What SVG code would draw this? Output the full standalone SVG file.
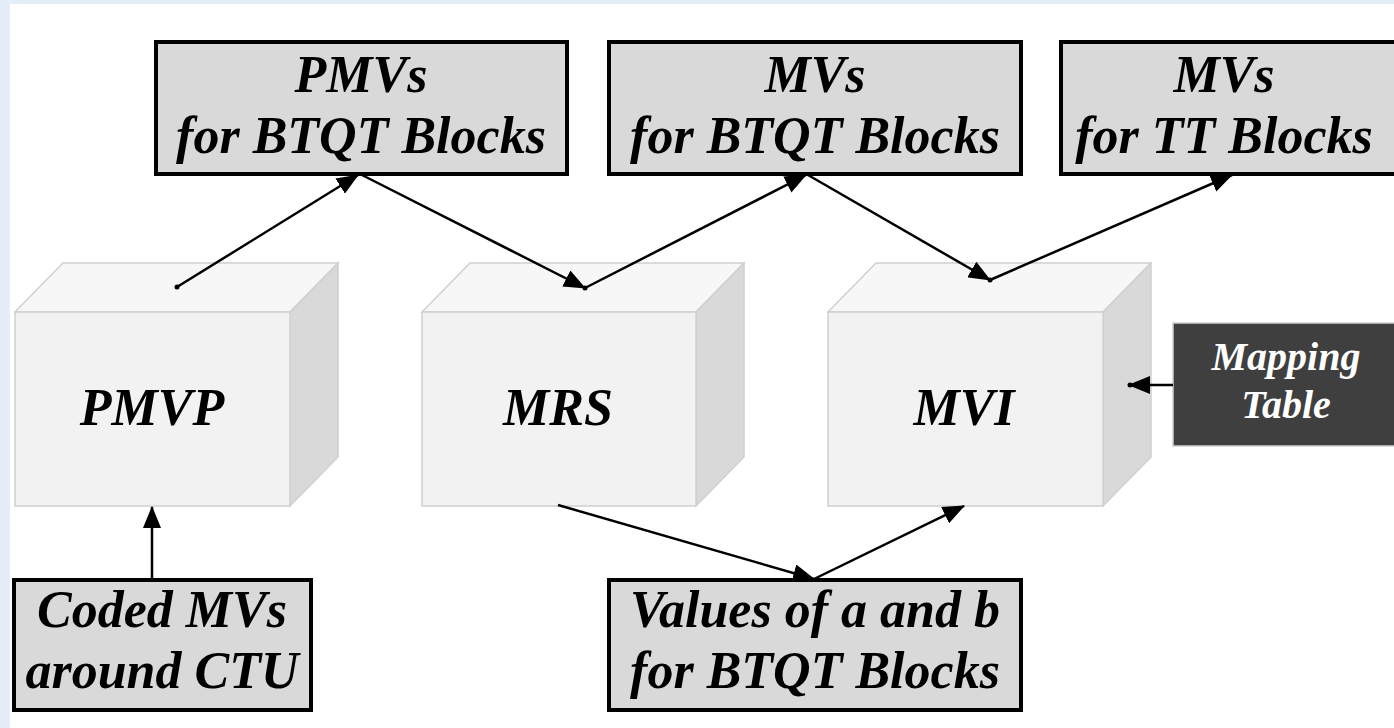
<svg xmlns="http://www.w3.org/2000/svg" width="1394" height="728" viewBox="0 0 1394 728">
<style>
.lbl{font-family:"Liberation Serif","Times New Roman",serif;font-weight:bold;font-style:italic;font-size:52px;fill:#000;text-anchor:middle}
.wl{font-family:"Liberation Serif","Times New Roman",serif;font-weight:bold;font-style:italic;font-size:40px;fill:#fff;text-anchor:middle}
.box{fill:#d9d9d9;stroke:#000;stroke-width:4}
.front{fill:#f2f2f2;stroke:#d0d0d0;stroke-width:1.5}
.top{fill:#f7f7f7;stroke:#d0d0d0;stroke-width:1.5}
.side{fill:#d9d9d9;stroke:#d0d0d0;stroke-width:1.5}
.conn{stroke:#000;stroke-width:2.5;fill:none}
</style>
<defs>
<marker id="arr" markerUnits="userSpaceOnUse" markerWidth="22" markerHeight="18" refX="21" refY="9" orient="auto">
<path d="M0,0 L22,9 L0,18 z" fill="#000"/>
</marker>
</defs>
<rect x="0" y="0" width="1394" height="728" fill="#fff"/>
<rect x="0" y="0" width="1394" height="4" fill="#e4edf8"/>
<rect x="0" y="0" width="10" height="728" fill="#e4edf8"/>

<g id="pmvp">
<polygon class="top" points="15,312 63,263 338,263 290,312"/>
<polygon class="side" points="290,312 338,263 338,457 290,506"/>
<rect class="front" x="15" y="312" width="275" height="194"/>
<text class="lbl" x="152" y="425">PMVP</text>
</g>
<g id="mrs">
<polygon class="top" points="422,312 470,263 744,263 696,312"/>
<polygon class="side" points="696,312 744,263 744,457 696,506"/>
<rect class="front" x="422" y="312" width="274" height="194"/>
<text class="lbl" x="558" y="425">MRS</text>
</g>
<g id="mvi">
<polygon class="top" points="828,312 876,263 1151,263 1103,312"/>
<polygon class="side" points="1103,312 1151,263 1151,457 1103,506"/>
<rect class="front" x="828" y="312" width="275" height="194"/>
<text class="lbl" x="964" y="425">MVI</text>
</g>

<g id="pmvs-btqt">
<rect class="box" x="156" y="42" width="411" height="132"/>
<text class="lbl" x="361" y="92">PMVs</text>
<text class="lbl" x="361" y="153">for BTQT Blocks</text>
</g>
<g id="mvs-btqt">
<rect class="box" x="609" y="42" width="412" height="132"/>
<text class="lbl" x="815" y="92">MVs</text>
<text class="lbl" x="815" y="153">for BTQT Blocks</text>
</g>
<g id="mvs-tt">
<rect class="box" x="1061" y="42" width="340" height="132"/>
<text class="lbl" x="1224" y="92">MVs</text>
<text class="lbl" x="1224" y="153">for TT Blocks</text>
</g>
<g id="mapping">
<rect x="1173" y="323" width="230" height="123" fill="#3f3f3f" stroke="#cfcfcf" stroke-width="1.5"/>
<text class="wl" x="1286" y="370">Mapping</text>
<text class="wl" x="1286" y="418">Table</text>
</g>
<g id="coded">
<rect class="box" x="14" y="580" width="297" height="130"/>
<text class="lbl" x="162" y="627">Coded MVs</text>
<text class="lbl" x="162" y="688">around CTU</text>
</g>
<g id="values">
<rect class="box" x="609" y="580" width="412" height="130"/>
<text class="lbl" x="815" y="627">Values of a and b</text>
<text class="lbl" x="815" y="688">for BTQT Blocks</text>
</g>

<g id="connectors">
<line class="conn" x1="177" y1="287" x2="358" y2="175" marker-end="url(#arr)"/>
<line class="conn" x1="362" y1="175" x2="585" y2="288" marker-end="url(#arr)"/>
<line class="conn" x1="585" y1="288" x2="806" y2="175" marker-end="url(#arr)"/>
<line class="conn" x1="808" y1="175" x2="990" y2="280" marker-end="url(#arr)"/>
<line class="conn" x1="990" y1="280" x2="1232" y2="175" marker-end="url(#arr)"/>
<line class="conn" x1="558" y1="505" x2="814" y2="579" marker-end="url(#arr)"/>
<line class="conn" x1="814" y1="579" x2="964" y2="506" marker-end="url(#arr)"/>
<line class="conn" x1="152" y1="578" x2="152" y2="507" marker-end="url(#arr)"/>
<line class="conn" x1="1173" y1="385" x2="1129" y2="385" marker-end="url(#arr)"/>
<circle cx="177" cy="287" r="2.5" fill="#000"/>
<circle cx="585" cy="288" r="2.5" fill="#000"/>
<circle cx="990" cy="280" r="2.5" fill="#000"/>
<circle cx="1130" cy="385" r="2.5" fill="#000"/>
</g>
</svg>
